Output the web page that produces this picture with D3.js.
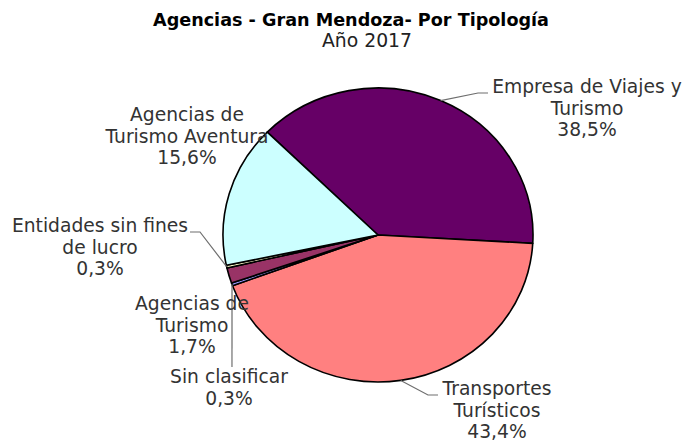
<!DOCTYPE html>
<html><head><meta charset="utf-8">
<script src="https://cdn.jsdelivr.net/npm/d3@7"></script>
<style>body{margin:0;background:#fff}</style>
</head><body><svg id="c" width="684" height="441"></svg>
<script>
const categories = ["Empresa de Viajes y Turismo","Transportes Turísticos","Sin clasificar","Agencias de Turismo","Entidades sin fines de lucro","Agencias de Turismo Aventura"];
const values = [38.5, 43.4, 0.3, 1.7, 0.3, 15.6];
const labelLines = [["Empresa de Viajes y","Turismo"],["Transportes","Turísticos"],["Sin clasificar"],["Agencias de","Turismo"],["Entidades sin fines","de lucro"],["Agencias de","Turismo Aventura"]];
const colors = ["#660066","#FF8080","#9999FF","#993366","#FFFFCC","#CCFFFF"];
const titleText = "Agencias - Gran Mendoza- Por Tipología";
const subtitleText = "Año 2017";

// layout (not data)
const cx = 378, cy = 235, rx = 155, ry = 147;
const startDeg = -45.6;
const labelLayout = [
  {x:587, y:93,  leader:[[478,93],[488,93]]},
  {x:497, y:395, leader:[[428,395],[438,395]]},
  {x:229, y:383, leader:[[232,367]]},
  {x:192, y:310, leader:null},
  {x:100, y:232, leader:[[200,232],[190,232]]},
  {x:187, y:121, leader:null}
];
const lineH = 21.5;

const svg = d3.select("#c");
svg.append("rect").attr("width",684).attr("height",441).attr("fill","#fff");

svg.append("text").attr("x",351).attr("y",26).attr("text-anchor","middle")
  .attr("font-family","DejaVu Sans").attr("font-weight","bold").attr("font-size",17.6)
  .attr("fill","#000").text(titleText);
svg.append("text").attr("x",367).attr("y",47).attr("text-anchor","middle")
  .attr("font-family","DejaVu Sans").attr("font-size",18.8)
  .attr("fill","#222").text(subtitleText);

const data = categories.map((c,i)=>({cat:c, value:values[i], lines:labelLines[i], color:colors[i], lay:labelLayout[i]}));
const start = startDeg*Math.PI/180;
const pie = d3.pie().sort(null).value(d=>d.value).startAngle(start).endAngle(start+2*Math.PI);
const arcs = pie(data);
const arc = d3.arc().innerRadius(0).outerRadius(ry);

const g = svg.append("g").attr("transform",`translate(${cx},${cy}) scale(${rx/ry},1)`);
g.selectAll("path").data(arcs).join("path")
  .attr("d",arc).attr("fill",d=>d.data.color)
  .attr("stroke","#000").attr("stroke-width",1.6)
  .attr("stroke-linejoin","round")
  .attr("vector-effect","non-scaling-stroke");

const fmt = v => d3.format(".1f")(v).replace(".",",") + "%";

// leaders
arcs.forEach(a=>{
  const lay = a.data.lay;
  if(!lay.leader) return;
  const mid = (a.startAngle+a.endAngle)/2;
  const p0 = [cx + rx*Math.sin(mid), cy - ry*Math.cos(mid)];
  const pts = [p0, ...lay.leader];
  svg.append("path").attr("d", d3.line()(pts)).attr("fill","none")
    .attr("stroke","#6e6e6e").attr("stroke-width",1.2);
});

// labels
arcs.forEach(a=>{
  const lay = a.data.lay;
  const lines = [...a.data.lines, fmt(a.data.value)];
  const t = svg.append("text").attr("text-anchor","middle")
    .attr("font-family","DejaVu Sans").attr("font-size",18.7).attr("fill","#333");
  lines.forEach((l,i)=>{
    t.append("tspan").attr("x",lay.x).attr("y",lay.y+i*lineH).text(l);
  });
});
</script></body></html>
